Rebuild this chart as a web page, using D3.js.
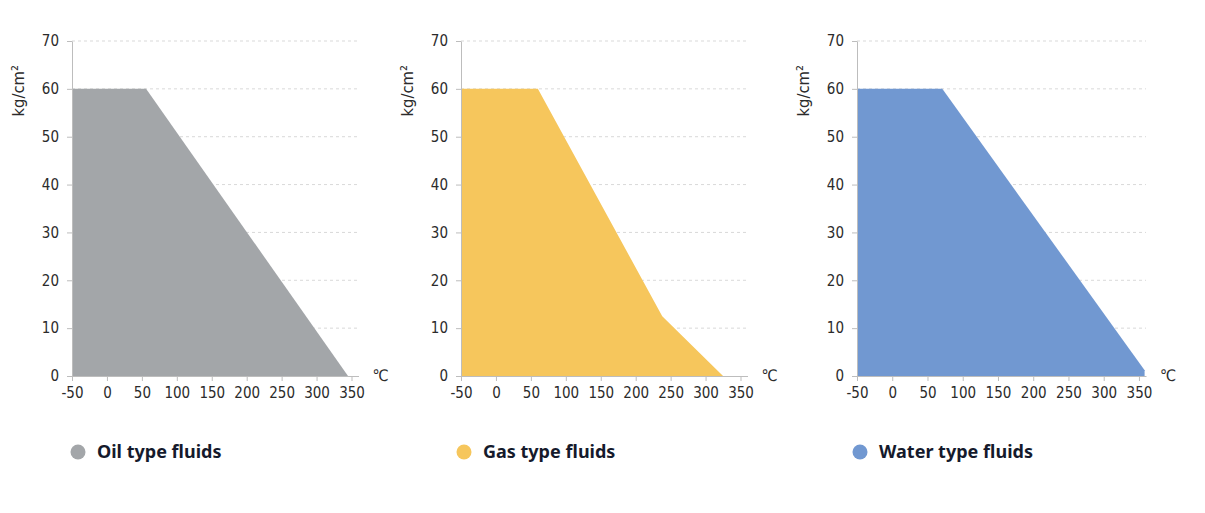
<!DOCTYPE html>
<html>
<head>
<meta charset="utf-8">
<script src="https://cdn.jsdelivr.net/npm/d3@7"></script>
<style>
  body { margin: 0; background: #fff; }
  .tick text { fill: #2b2b2b; }
</style>
</head>
<body>
<div id="chart"></div>
<script>
// tick values
let xTicks = [-50, 0, 50, 100, 150, 200, 250, 300, 350];
let yTicks = [0, 10, 20, 30, 40, 50, 60, 70];

// series: temperature (°C) and pressure (kg/cm²)
let oilTemp = [-50, 56, 345];
let oilPress = [60, 60, 0];
let gasTemp = [-50, 60, 238, 325];
let gasPress = [60, 60, 12.5, 0];
let waterTemp = [-50, 71, 358];
let waterPress = [60, 60, 1.2];

let names = ["Oil type fluids", "Gas type fluids", "Water type fluids"];
let colors = ["#a3a6a9", "#f6c65c", "#7198d1"];

let width = 1205, height = 513;
let plotTop = 41, plotBottom = 376;
let panels = [
  {left: 72, right: 358.5, t: oilTemp, p: oilPress, lx: 6},
  {left: 461, right: 747.5, t: gasTemp, p: gasPress, lx: 3},
  {left: 857, right: 1146, t: waterTemp, p: waterPress, lx: 3}
];
let tickFont = "'Liberation Sans Narrow', 'DejaVu Sans Condensed', 'Noto Sans', sans-serif";

let svg = d3.select("#chart").append("svg")
    .attr("width", width)
    .attr("height", height);

panels.forEach((pn, i) => {
  let x = d3.scaleLinear().domain([-50, 360]).range([pn.left, pn.right]);
  let y = d3.scaleLinear().domain([0, 70]).range([plotBottom, plotTop]);
  let g = svg.append("g");

  // dashed grid
  g.append("g")
    .selectAll("line")
    .data(yTicks.filter(d => d > 0))
    .join("line")
      .attr("x1", x(-50))
      .attr("x2", x(360))
      .attr("y1", d => y(d))
      .attr("y2", d => y(d))
      .attr("stroke", "#d9d9d9")
      .attr("stroke-dasharray", "3,3");

  let pts = pn.t.map((t, j) => [t, pn.p[j]]);
  let area = d3.area()
      .x(d => x(d[0]))
      .y0(y(0))
      .y1(d => y(d[1]));
  g.append("path")
    .datum(pts)
    .attr("d", area)
    .attr("fill", colors[i]);

  g.append("g")
    .attr("transform", `translate(0,${plotBottom})`)
    .call(d3.axisBottom(x).tickValues(xTicks).tickFormat(d => String(d)).tickSize(5).tickPadding(6).tickSizeOuter(0))
    .call(g => g.selectAll(".domain, line").attr("stroke", "#bdbdbd"))
    .call(g => g.selectAll("text").attr("font-size", 15).attr("font-family", tickFont));

  g.append("g")
    .attr("transform", `translate(${pn.left},0)`)
    .call(d3.axisLeft(y).tickValues(yTicks).tickSize(5).tickPadding(8).tickSizeOuter(0))
    .call(g => g.selectAll(".domain, line").attr("stroke", "#bdbdbd"))
    .call(g => g.selectAll("text").attr("font-size", 15).attr("font-family", tickFont));

  g.append("text")
    .attr("transform", `translate(${pn.left - 48},${(y(60) + y(50)) / 2 - 22}) rotate(-90)`)
    .attr("text-anchor", "middle")
    .attr("font-family", tickFont)
    .attr("font-size", 16.5)
    .attr("fill", "#2b2b2b")
    .text("kg/cm²");

  g.append("text")
    .attr("x", pn.right + 14)
    .attr("y", plotBottom + 5)
    .attr("font-family", tickFont)
    .attr("font-size", 16)
    .attr("fill", "#2b2b2b")
    .text("℃");

  // legend
  let lg = g.append("g").attr("transform", `translate(${pn.left + pn.lx},452)`);
  lg.append("circle").attr("r", 7.5).attr("fill", colors[i]);
  lg.append("text")
    .attr("x", 19)
    .attr("dy", "0.35em")
    .attr("font-family", "'Noto Sans', sans-serif")
    .attr("font-weight", "bold")
    .attr("font-size", 18)
    .attr("fill", "#151a2c")
    .text(names[i]);
});
</script>
</body>
</html>
